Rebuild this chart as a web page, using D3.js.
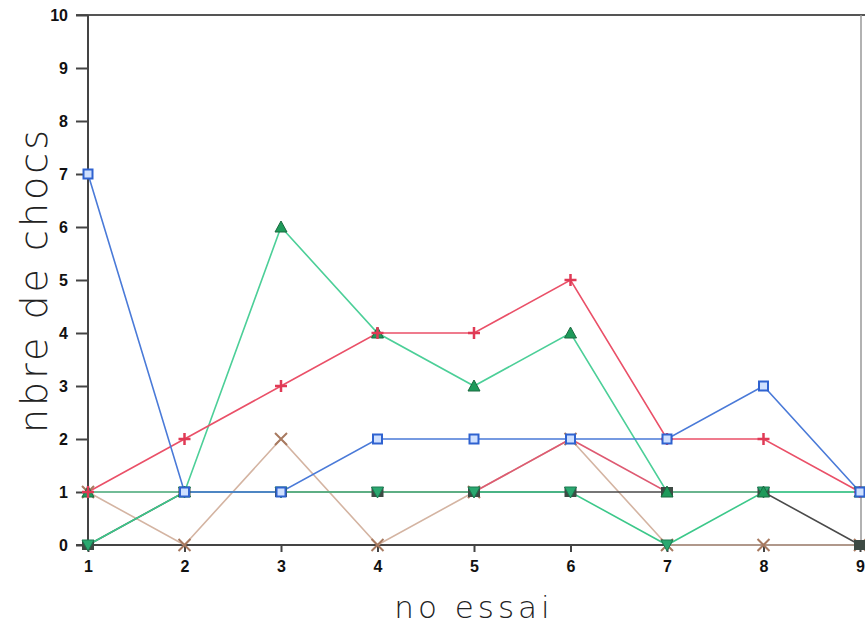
<!DOCTYPE html>
<html><head><meta charset="utf-8">
<script src="https://cdn.jsdelivr.net/npm/d3@7"></script>
<style>body{margin:0;background:#fff}svg{display:block}</style>
</head><body>
<svg id="c" width="865" height="625"></svg>
<script>
const essais = [1,2,3,4,5,6,7,8,9];
const yTicks = [0,1,2,3,4,5,6,7,8,9,10];
const serieBleue = [7,1,1,2,2,2,2,3,1];
const serieRouge = [1,2,3,4,4,5,2,2,1];
const serieVerte = [1,1,6,4,3,4,1,1,1];
const serieVerteClaire = [0,1,1,1,1,1,0,1,1];
const serieGrise = [0,1,1,1,1,1,1,1,0];
const serieRouge2 = [1,1,1,1,1,2,1,1,1];
const serieBeige = [1,0,2,0,1,2,0,0,0];

const series = [
  {v: serieBeige, c: "#d4b4a2", m: "x"},
  {v: serieGrise, c: "#4a4a4a", m: "sqf"},
  {v: serieRouge2, c: "#de5a72", m: "none"},
  {v: serieVerteClaire, c: "#3cc88a", m: "tdown"},
  {v: serieVerte, c: "#4ccf98", m: "tup"},
  {v: serieRouge, c: "#ea5068", m: "plus"},
  {v: serieBleue, c: "#4a7ad8", m: "sq"}
];

const svg = d3.select("#c");
const x = d3.scaleLinear().domain([1,9]).range([88,860]);
const y = d3.scaleLinear().domain([0,10]).range([545,15]);

// frame
svg.append("line").attr("x1",76).attr("x2",865).attr("y1",15).attr("y2",15).attr("stroke","#555").attr("stroke-width",2);
svg.append("line").attr("x1",861).attr("x2",861).attr("y1",15).attr("y2",545).attr("stroke","#999").attr("stroke-width",1.5);

const yAxis = svg.append("g").attr("transform","translate(88,0)")
  .call(d3.axisLeft(y).tickValues(yTicks).tickSize(12).tickPadding(8).tickFormat(d3.format("d")));
const xAxis = svg.append("g").attr("transform","translate(0,545)")
  .call(d3.axisBottom(x).tickValues(essais).tickSize(7).tickPadding(9).tickFormat(d3.format("d")));
[yAxis,xAxis].forEach(g=>{
  g.select(".domain").attr("stroke","#444").attr("stroke-width",2);
  g.selectAll(".tick line").attr("stroke","#444").attr("stroke-width",2);
  g.selectAll(".tick text").attr("fill","#111").style("font-family","Liberation Sans").style("font-weight","bold").style("font-size","16px");
});
yAxis.select(".domain").attr("d","M0,15V545");
xAxis.select(".domain").attr("d","M76,0H865");

const line = d3.line().x((d,i)=>x(essais[i])).y(d=>y(d));
series.forEach(s=>{
  svg.append("path").attr("d",line(s.v)).attr("fill","none").attr("stroke",s.c).attr("stroke-width",1.6);
});
series.forEach(s=>{
  const g = svg.append("g");
  s.v.forEach((d,i)=>{
    const cx = x(essais[i]), cy = y(d);
    if (s.m==="sq") {
      g.append("rect").attr("x",cx-4.5).attr("y",cy-4.5).attr("width",9).attr("height",9).attr("fill","#cfe0ff").attr("stroke","#2f62d0").attr("stroke-width",2);
    } else if (s.m==="sqf") {
      g.append("rect").attr("x",cx-6).attr("y",cy-5).attr("width",12).attr("height",10).attr("fill","#3d4a44");
    } else if (s.m==="plus") {
      g.append("path").attr("d",`M${cx-6},${cy}H${cx+6}M${cx},${cy-6}V${cy+6}`).attr("stroke","#e03a55").attr("stroke-width",2.5);
    } else if (s.m==="tup") {
      g.append("path").attr("d",`M${cx},${cy-6}L${cx+6},${cy+5}L${cx-6},${cy+5}Z`).attr("fill","#1e9a5a").attr("stroke","#1a6a40").attr("stroke-width",1);
    } else if (s.m==="tdown") {
      g.append("path").attr("d",`M${cx-6},${cy-5}L${cx+6},${cy-5}L${cx},${cy+6}Z`).attr("fill","#2aa870").attr("stroke","#1a7a50").attr("stroke-width",1);
    } else if (s.m==="x") {
      g.append("path").attr("d",`M${cx-6},${cy-6}L${cx+6},${cy+6}M${cx+6},${cy-6}L${cx-6},${cy+6}`).attr("stroke","#a87a60").attr("stroke-width",2);
    }
  });
});

svg.append("text").attr("x",474).attr("y",618).attr("text-anchor","middle")
  .style("font-family","DejaVu Sans").style("font-weight","300").style("font-size","31px").style("letter-spacing","4px").attr("fill","#222").text("no essai");
svg.append("text").attr("transform","translate(47,280) rotate(-90)").attr("text-anchor","middle")
  .style("font-family","DejaVu Sans").style("font-weight","300").style("font-size","38px").style("letter-spacing","3px").attr("fill","#222").text("nbre de chocs");
</script>
</body></html>
